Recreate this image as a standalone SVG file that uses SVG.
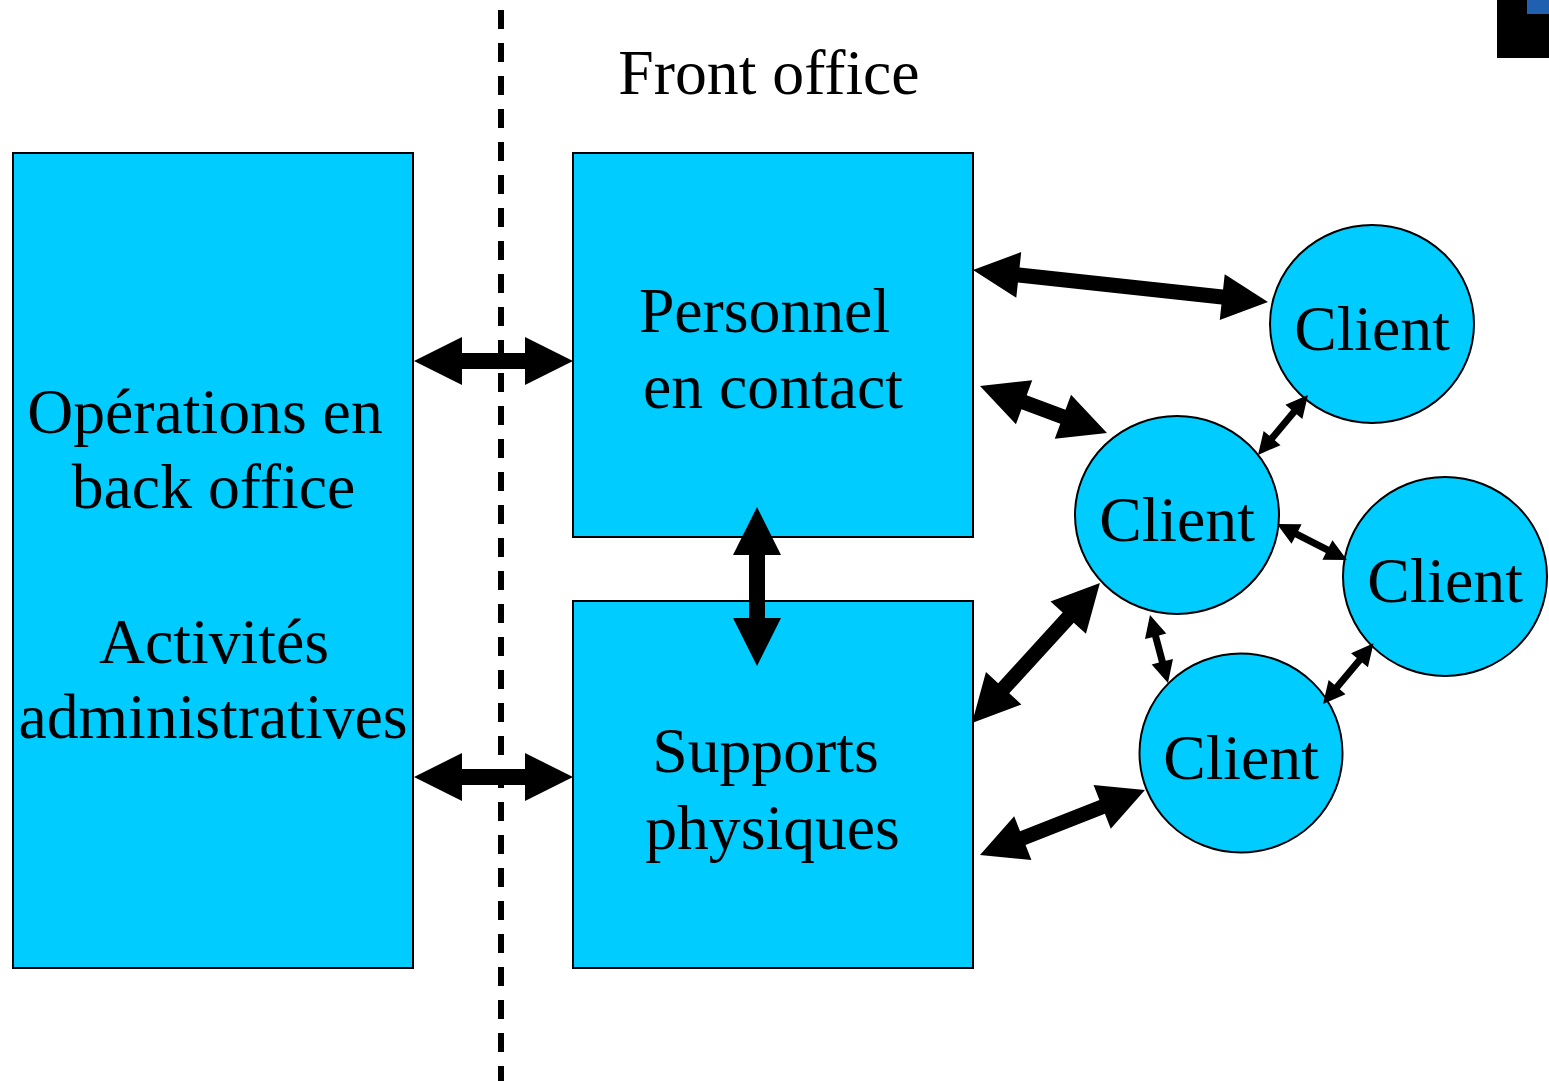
<svg xmlns="http://www.w3.org/2000/svg" width="1549" height="1081" viewBox="0 0 1549 1081">
<style>
.box{fill:#00ccff;stroke:#000;stroke-width:2}
.cli{fill:#00ccff;stroke:#000;stroke-width:2}
.t{font-family:"Liberation Serif","Times New Roman",serif;font-size:63.7px;fill:#000;text-anchor:middle}
.arr{fill:#000;stroke:none}
</style>
<rect width="1549" height="1081" fill="#fff"/>
<g id="corner">
<rect x="1497" y="0" width="52" height="58" fill="#000"/>
<rect x="1527" y="0" width="22" height="14" fill="#2060b0"/>
</g>
<line id="separator" x1="501" y1="10" x2="501" y2="1081" stroke="#000" stroke-width="6" stroke-dasharray="19 14"/>
<text id="front-office" class="t" x="769" y="94">Front office</text>
<g id="back-office">
<rect class="box" x="13" y="153" width="400" height="815"/>
<text class="t" x="205" y="433">Opérations en</text>
<text class="t" x="213.5" y="508">back office</text>
<text class="t" x="214" y="663">Activités</text>
<text class="t" x="213" y="738">administratives</text>
</g>
<g id="personnel">
<rect class="box" x="573" y="153" width="400" height="384"/>
<text class="t" x="764.5" y="332">Personnel</text>
<text class="t" x="773" y="408">en contact</text>
</g>
<g id="supports">
<rect class="box" x="573" y="601" width="400" height="367"/>
<text class="t" x="765.5" y="772">Supports</text>
<text class="t" x="772.5" y="849">physiques</text>
</g>
<g id="client1">
<ellipse class="cli" cx="1372" cy="324" rx="102" ry="99"/>
<text class="t" x="1372" y="350">Client</text>
</g>
<g id="client2">
<ellipse class="cli" cx="1177" cy="515" rx="102" ry="99"/>
<text class="t" x="1177" y="541">Client</text>
</g>
<g id="client3">
<ellipse class="cli" cx="1445" cy="576.5" rx="102" ry="99.5"/>
<text class="t" x="1445" y="602">Client</text>
</g>
<g id="client4">
<ellipse class="cli" cx="1241" cy="753" rx="101.5" ry="99.5"/>
<text class="t" x="1241" y="779">Client</text>
</g>
<g id="connectors" class="arr">
<polygon transform="translate(414,361)" points="0,0 48,-24 48,-8 111,-8 111,-24 159,0 111,24 111,8 48,8 48,24"/>
<polygon transform="translate(414,777)" points="0,0 48,-24 48,-8 111,-8 111,-24 159,0 111,24 111,8 48,8 48,24"/>
<polygon transform="translate(757,507) rotate(90)" points="0,0 48,-24 48,-8 111,-8 111,-24 159,0 111,24 111,8 48,8 48,24"/>
<polygon transform="translate(973,270) rotate(6.19)" points="0,0 46,-23 46,-7.5 250.7,-7.5 250.7,-23 296.7,0 250.7,23 250.7,7.5 46,7.5 46,23"/>
<polygon transform="translate(980,386) rotate(20.3)" points="0,0 47,-23.5 47,-7.5 88.4,-7.5 88.4,-23.5 135.4,0 88.4,23.5 88.4,7.5 47,7.5 47,23.5"/>
<polygon transform="translate(972,723) rotate(-47.6)" points="0,0 47,-24 47,-7.5 142.7,-7.5 142.7,-24 189.7,0 142.7,24 142.7,7.5 47,7.5 47,24"/>
<polygon transform="translate(980,855) rotate(-21.5)" points="0,0 46,-23.5 46,-7.5 131.3,-7.5 131.3,-23.5 177.3,0 131.3,23.5 131.3,7.5 46,7.5 46,23.5"/>
<polygon transform="translate(1150,615) rotate(75.2)" points="0,0 22,-11 22,-3.5 48.3,-3.5 48.3,-11 70.3,0 48.3,11 48.3,3.5 22,3.5 22,11"/>
<polygon transform="translate(1323,704) rotate(-50.2)" points="0,0 22,-11 22,-3.5 57,-3.5 57,-11 79,0 57,11 57,3.5 22,3.5 22,11"/>
<polygon transform="translate(1258,455) rotate(-50.2)" points="0,0 22,-11 22,-3.5 56.1,-3.5 56.1,-11 78.1,0 56.1,11 56.1,3.5 22,3.5 22,11"/>
<polygon transform="translate(1277,524) rotate(27.2)" points="0,0 22,-11 22,-3.5 56.7,-3.5 56.7,-11 78.7,0 56.7,11 56.7,3.5 22,3.5 22,11"/>
</g>
</svg>
